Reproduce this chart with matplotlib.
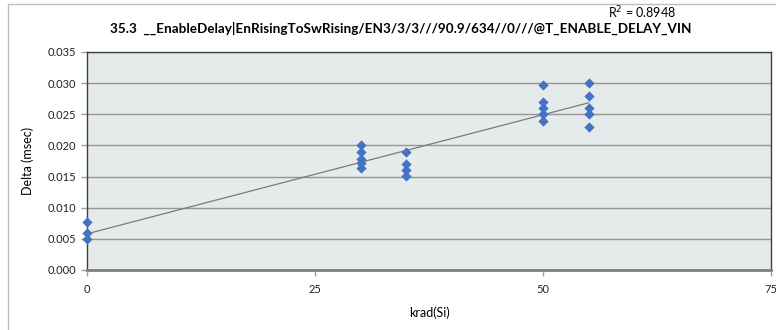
import numpy as np
import matplotlib.pyplot as plt
from matplotlib.patches import Rectangle

# Data
dose_krad = [0, 0, 0,
             30, 30, 30, 30, 30,
             35, 35, 35, 35,
             50, 50, 50, 50, 50,
             55, 55, 55, 55, 55]
delta_msec = [0.0077, 0.0059, 0.0049,
              0.0201, 0.0190, 0.0179, 0.0171, 0.0164,
              0.0189, 0.0170, 0.0160, 0.0151,
              0.0297, 0.0270, 0.0260, 0.0250, 0.0239,
              0.0300, 0.0280, 0.0260, 0.0250, 0.0229]
x_ticks = [0, 25, 50, 75]
y_ticks = [0.000, 0.005, 0.010, 0.015, 0.020, 0.025, 0.030, 0.035]
title_text = "35.3  __EnableDelay|EnRisingToSwRising/EN3/3/3///90.9/634//0///@T_ENABLE_DELAY_VIN"
r2_text = "R$^2$ = 0.8948"

plt.rcParams["font.family"] = ["Lato", "DejaVu Sans"]

fig = plt.figure(figsize=(7.76, 3.30), dpi=100)
fig.patch.set_facecolor("white")

# Outer chart border
fig.patches.append(Rectangle((8 / 776, -0.2), 1.2, 1.2 - 4 / 330,
                             transform=fig.transFigure, fill=False,
                             edgecolor="#bdbdbd", linewidth=1.0))

ax = fig.add_axes([87 / 776, 1 - 270 / 330, (771 - 87) / 776, (270 - 52) / 330])
ax.set_facecolor("#e5ebea")

x = np.array(dose_krad, dtype=float)
y = np.array(delta_msec)

# Linear trend line over the data range
slope, intercept = np.polyfit(x, y, 1)
x_fit = np.array([x.min(), x.max()])
ax.plot(x_fit, slope * x_fit + intercept, color="#7a7a7a", linewidth=0.9, zorder=2)

ax.scatter(x, y, marker="D", s=24, color="#4472c4", edgecolors="#4472c4",
           linewidths=0.3, zorder=3, clip_on=False)

ax.set_xlim(0, 75)
ax.set_ylim(0, 0.035)
ax.set_xticks(x_ticks)
ax.set_yticks(y_ticks)
ax.set_yticklabels([f"{v:.3f}" for v in y_ticks])
ax.grid(axis="y", color="#969696", linewidth=1.0)
ax.set_axisbelow(True)

for side in ["top", "right", "left"]:
    ax.spines[side].set_color("#404040")
    ax.spines[side].set_linewidth(1.0)
ax.spines["bottom"].set_color("#808080")
ax.spines["bottom"].set_linewidth(2.0)

ax.tick_params(axis="both", labelsize=8, color="#a0a0a0", length=4, width=1,
               labelcolor="#222222")
ax.tick_params(axis="x", pad=6)

ax.set_xlabel("krad(Si)", fontsize=9, labelpad=8)
ax.set_ylabel("Delta (msec)", fontsize=9, labelpad=10)

fig.text(401 / 776, 1 - 28 / 330, title_text, fontsize=9.7, fontweight="bold",
         ha="center", va="center")
fig.text(642 / 776, 1 - 13 / 330, r2_text, fontsize=9, ha="center", va="center")

fig.savefig("out.png", dpi=100)
